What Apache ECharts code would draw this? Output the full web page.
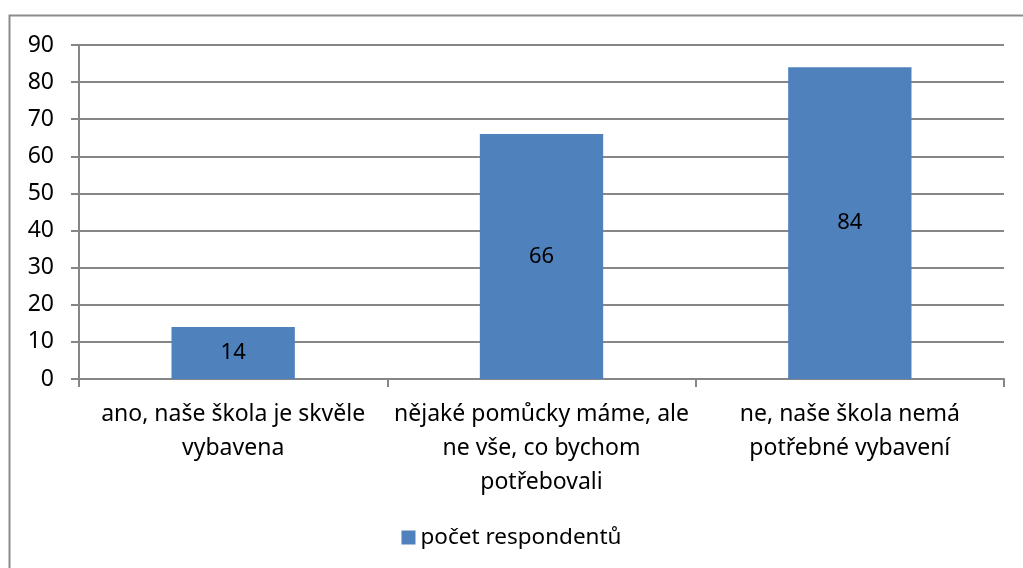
<!DOCTYPE html>
<html>
<head>
<meta charset="utf-8">
<script src="https://cdn.jsdelivr.net/npm/echarts@6/dist/echarts.min.js"></script>
<style>
  html, body { margin: 0; padding: 0; background: #fff; }
  #chart { width: 1023px; height: 568px; }
</style>
</head>
<body>
<div id="chart"></div>
<script>
// data
const categories = [
  'ano, naše škola je skvěle\nvybavena',
  'nějaké pomůcky máme, ale\nne vše, co bychom\npotřebovali',
  'ne, naše škola nemá\npotřebné vybavení'
]
const seriesName = 'počet respondentů'
const values = [14, 66, 84]

const font = 'Noto Sans'
const grey = '#868686'

const chart = echarts.init(document.getElementById('chart'))
chart.setOption({
  animation: false,
  textStyle: { fontFamily: font },
  graphic: [{
    type: 'rect',
    shape: { x: 9.5, y: 15.5, width: 1030, height: 600 },
    style: { fill: null, stroke: '#8c8c8c', lineWidth: 2 },
    silent: true
  }],
  grid: { left: 79, right: 19, top: 45, bottom: 189 },
  legend: {
    top: 521,
    left: 'center',
    itemWidth: 14,
    itemHeight: 14,
    itemGap: 6,
    icon: 'rect',
    textStyle: { fontSize: 22.5, color: '#000', fontFamily: font }
  },
  xAxis: {
    type: 'category',
    data: categories,
    axisLine: { lineStyle: { color: grey, width: 2 } },
    axisTick: { show: true, length: 8, alignWithLabel: false, lineStyle: { color: grey, width: 2 } },
    axisLabel: { color: '#000', fontSize: 23, lineHeight: 34, margin: 18, interval: 0, fontFamily: font }
  },
  yAxis: {
    type: 'value',
    min: 0,
    max: 90,
    interval: 10,
    axisLine: { show: true, lineStyle: { color: grey, width: 2 } },
    axisTick: { show: true, length: 8, lineStyle: { color: grey, width: 2 } },
    splitLine: { lineStyle: { color: grey, width: 2 } },
    axisLabel: { color: '#000', fontSize: 23, margin: 25, fontFamily: font }
  },
  series: [{
    name: seriesName,
    type: 'bar',
    data: values,
    barWidth: '40%',
    itemStyle: { color: '#4F81BD' },
    label: { show: true, position: 'inside', color: '#000', fontSize: 22, fontFamily: font }
  }]
})
</script>
</body>
</html>
